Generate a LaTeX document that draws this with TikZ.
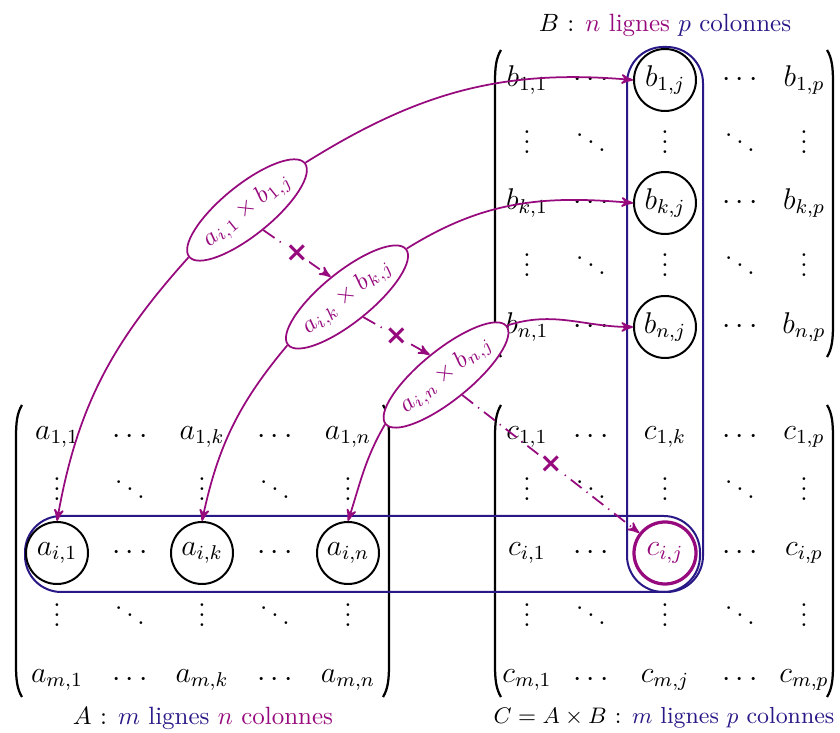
\documentclass[tikz,border=0pt]{standalone}
\usepackage{fontspec}
\usepackage{tikz}
\usetikzlibrary{positioning,arrows,shapes,calc}
\usetikzlibrary{shapes.geometric}
\newfontfamily\markfont{DejaVu Sans}
\definecolor{mauve}{RGB}{150,10,125}
\definecolor{bleu}{RGB}{40,25,135}
\tikzset{
  entry/.style={inner sep=1pt, font=\fontsize{11.5}{14}\selectfont},
  pick/.style={entry, circle, draw=black, line width=0.8pt, minimum size=24.8pt, inner sep=0pt},
  target/.style={pick, draw=mauve, text=mauve, line width=1.3pt},
  prod/.style={ellipse, draw=mauve, fill=white, text=mauve, line width=0.7pt, rotate=39,
    minimum width=57pt, minimum height=20pt, inner sep=0pt, font=\fontsize{9.6}{12}\selectfont},
  link/.style={draw=mauve, line width=0.7pt, ->, >=stealth'},
  relay/.style={draw=mauve, line width=0.7pt, ->, >=stealth', dash pattern={on 5.5pt off 2.5pt on 0.5pt off 2.5pt}},
  timesmark/.style={fill=white, inner sep=0.3pt, text=mauve, font=\markfont\bfseries\fontsize{11}{11}\selectfont},
  selbox/.style={draw=bleu, line width=0.8pt, rounded corners=14.5pt},
  paren/.style={draw=black, line width=0.9pt},
  title/.style={font=\normalsize}
}

\begin{document}
\begin{tikzpicture}[x=0.4pt,y=0.4pt]
  \useasboundingbox (0,0) rectangle (840,733);
  % parentheses of the three matrices
  \foreach \xl/\xr/\yt/\yb in {16/389/328/36, 495/833/683/376, 495/833/328/36} {
    \draw[paren] (\xl+6,\yt) .. controls (\xl+1,\yt-8) and (\xl,\yt-18) .. (\xl,\yt-32)
      -- (\xl,\yb+32) .. controls (\xl,\yb+18) and (\xl+1,\yb+8) .. (\xl+6,\yb);
    \draw[paren] (\xr-6,\yt) .. controls (\xr-1,\yt-8) and (\xr,\yt-18) .. (\xr,\yt-32)
      -- (\xr,\yb+32) .. controls (\xr,\yb+18) and (\xr-1,\yb+8) .. (\xr-6,\yb);
  }
  % row i and column j
  \draw[selbox] (25,141) rectangle (700,217);
  \draw[selbox] (627,141) rectangle (703,686);

  % matrix B
  \node[entry] (b11) at (527,653) {$b_{1,1}$};
  \node[entry] (b12) at (591,653) {$\cdots$};
  \node[pick]  (b1j) at (665,653) {$b_{1,j}$};
  \node[entry] (b14) at (740,653) {$\cdots$};
  \node[entry] (b1p) at (804,653) {$b_{1,p}$};
  \node[entry] (bk1) at (527,530) {$b_{k,1}$};
  \node[entry] (bk2) at (591,530) {$\cdots$};
  \node[pick]  (bkj) at (665,530) {$b_{k,j}$};
  \node[entry] (bk4) at (740,530) {$\cdots$};
  \node[entry] (bkp) at (804,530) {$b_{k,p}$};
  \node[entry] (bn1) at (527,406) {$b_{n,1}$};
  \node[entry] (bn2) at (591,406) {$\cdots$};
  \node[pick]  (bnj) at (665,406) {$b_{n,j}$};
  \node[entry] (bn4) at (740,406) {$\cdots$};
  \node[entry] (bnp) at (804,406) {$b_{n,p}$};
  \foreach \x/\s [count=\c] in {527/\vdots,591/\ddots,665/\vdots,740/\ddots,804/\vdots} {
    \node[entry] (bu\c) at (\x,598) {$\s$};
    \node[entry] (bv\c) at (\x,475) {$\s$};
  }

  % matrix A
  \node[entry] (a11) at (57,296) {$a_{1,1}$};
  \node[entry] (a12) at (130,296) {$\cdots$};
  \node[entry] (a1k) at (202,296) {$a_{1,k}$};
  \node[entry] (a14) at (275,296) {$\cdots$};
  \node[entry] (a1n) at (348,296) {$a_{1,n}$};
  \node[pick]  (ai1) at (57,180) {$a_{i,1}$};
  \node[entry] (ai2) at (130,180) {$\cdots$};
  \node[pick]  (aik) at (202,180) {$a_{i,k}$};
  \node[entry] (ai4) at (275,180) {$\cdots$};
  \node[pick]  (ain) at (348,180) {$a_{i,n}$};
  \node[entry] (am1) at (57,53) {$a_{m,1}$};
  \node[entry] (am2) at (130,53) {$\cdots$};
  \node[entry] (amk) at (202,53) {$a_{m,k}$};
  \node[entry] (am4) at (275,53) {$\cdots$};
  \node[entry] (amn) at (348,53) {$a_{m,n}$};
  \foreach \x/\s [count=\c] in {57/\vdots,130/\ddots,202/\vdots,275/\ddots,348/\vdots} {
    \node[entry] (au\c) at (\x,251) {$\s$};
    \node[entry] (av\c) at (\x,125) {$\s$};
  }

  % matrix C
  \node[entry]  (c11) at (527,296) {$c_{1,1}$};
  \node[entry]  (c12) at (591,296) {$\cdots$};
  \node[entry]  (c1k) at (665,296) {$c_{1,k}$};
  \node[entry]  (c14) at (740,296) {$\cdots$};
  \node[entry]  (c1p) at (804,296) {$c_{1,p}$};
  \node[entry]  (ci1) at (527,180) {$c_{i,1}$};
  \node[entry]  (ci2) at (591,180) {$\cdots$};
  \node[target] (cij) at (665,180) {$c_{i,j}$};
  \node[entry]  (ci4) at (740,180) {$\cdots$};
  \node[entry]  (cip) at (804,180) {$c_{i,p}$};
  \node[entry]  (cm1) at (527,53) {$c_{m,1}$};
  \node[entry]  (cm2) at (591,53) {$\cdots$};
  \node[entry]  (cmj) at (665,53) {$c_{m,j}$};
  \node[entry]  (cm4) at (740,53) {$\cdots$};
  \node[entry]  (cmp) at (804,53) {$c_{m,p}$};
  \foreach \x/\s [count=\c] in {527/\vdots,591/\ddots,665/\vdots,740/\ddots,804/\vdots} {
    \node[entry] (cu\c) at (\x,251) {$\s$};
    \node[entry] (cv\c) at (\x,125) {$\s$};
  }

  % products
  \node[prod] (e1) at (247,523) {$a_{i,1}\times b_{1,j}$};
  \node[prod] (e2) at (347,436) {$a_{i,k}\times b_{k,j}$};
  \node[prod] (e3) at (446,358) {$a_{i,n}\times b_{n,j}$};

  \draw[link] (e1.east) to[out=32,in=175] (b1j.west);
  \draw[link] (e1.west) to[out=228,in=80] (ai1.north);
  \draw[link] (e2.east) to[out=32,in=175] (bkj.west);
  \draw[link] (e2.west) to[out=230,in=78] (aik.north);
  \draw[link] (e3.east) to[out=18,in=180] (bnj.west);
  \draw[link] (e3.west) to[out=240,in=72] (ain.north);

  \draw[relay] (e1.south) -- (e2.north) node[timesmark, midway] {×};
  \draw[relay] (e2.south) -- (e3.north) node[timesmark, midway] {×};
  \draw[relay] (e3.south) -- (cij) node[timesmark, midway] {×};

  % titles
  \node[title] (tB) at (665,708) {$B$ : \textcolor{mauve}{$n$ lignes} \textcolor{bleu}{$p$ colonnes}};
  \node[title] (tA) at (203,15) {$A$ : \textcolor{bleu}{$m$ lignes} \textcolor{mauve}{$n$ colonnes}};
  \node[title, font=\fontsize{9.3}{11}\selectfont] (tC) at (664,15)
    {$C=A\times B$ : \textcolor{bleu}{$m$ lignes $p$ colonnes}};
\end{tikzpicture}
\end{document}
